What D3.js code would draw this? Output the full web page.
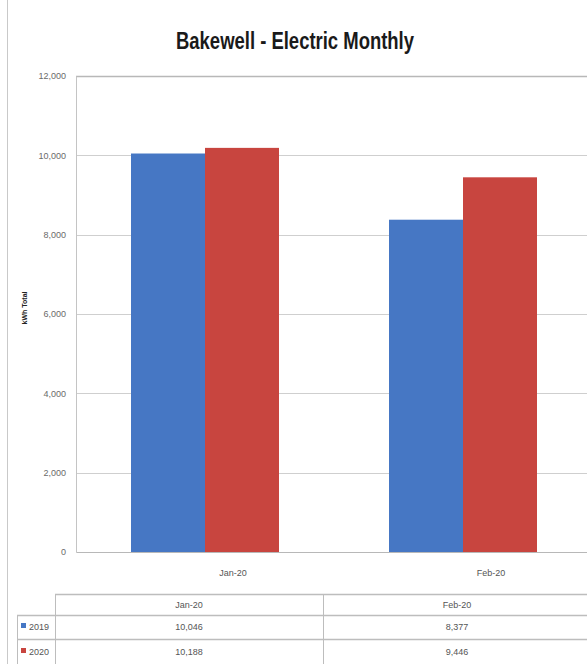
<!DOCTYPE html>
<html>
<head>
<meta charset="utf-8">
<script src="https://cdn.jsdelivr.net/npm/d3@7"></script>
<style>
  html, body { margin: 0; padding: 0; background: #fff; }
  svg { display: block; }
  text { font-family: "Liberation Sans", Arial, sans-serif; }
</style>
</head>
<body>
<svg id="chart" width="587" height="664"></svg>
<script>
// Monthly electricity use, two years side by side
const categories = ["Jan-20", "Feb-20"];
const seriesNames = ["2019", "2020"];
const values2019 = [10046, 8377];
const values2020 = [10188, 9446];
const yTicks = [0, 2000, 4000, 6000, 8000, 10000, 12000];
const seriesColors = ["#4677c4", "#c8453f"];

const series = [values2019, values2020];

const svg = d3.select("#chart");
const W = 587, H = 664;
const plot = { left: 76, right: 592, top: 76, bottom: 552 };

// frame line on the left edge
svg.append("line")
  .attr("x1", 7.5).attr("x2", 7.5).attr("y1", 0).attr("y2", H)
  .attr("stroke", "#c9c9c9").attr("stroke-width", 1);

// title, condensed to the width of the plot heading
svg.append("text")
  .attr("x", 295).attr("y", 49)
  .attr("text-anchor", "middle")
  .attr("font-size", 23).attr("font-weight", "bold")
  .attr("fill", "#1a1a1a")
  .attr("textLength", 238).attr("lengthAdjust", "spacingAndGlyphs")
  .text("Bakewell - Electric Monthly");

const y = d3.scaleLinear().domain([0, 12000]).range([plot.bottom, plot.top]);
const x0 = d3.scaleBand().domain(categories).range([plot.left, plot.right])
  .paddingInner(0.4264).paddingOuter(0.2132);
const x1 = d3.scaleBand().domain(seriesNames).range([0, x0.bandwidth()]);

// gridlines
svg.append("g").selectAll("line").data(yTicks.filter(d => d > 0)).join("line")
  .attr("x1", plot.left).attr("x2", W)
  .attr("y1", d => Math.round(y(d)) + 0.5).attr("y2", d => Math.round(y(d)) + 0.5)
  .attr("stroke", d => d === 12000 ? "#b8b8b8" : "#cfcfcf").attr("stroke-width", d => d === 12000 ? 1.5 : 1);

// y axis (labels only, plus plot frame)
const yAxis = d3.axisLeft(y).tickValues(yTicks).tickSize(0).tickPadding(10)
  .tickFormat(d3.format(","));
const gy = svg.append("g").attr("transform", `translate(${plot.left},0)`).call(yAxis);
gy.select(".domain").attr("stroke", "#c4c4c4");
gy.selectAll("text").attr("font-size", 9).attr("fill", "#6a6a6a");

// bars
svg.append("g").selectAll("g").data(categories).join("g")
  .attr("transform", d => `translate(${x0(d)},0)`)
  .selectAll("rect")
  .data((d, i) => seriesNames.map((s, j) => ({ s, j, v: series[j][i] })))
  .join("rect")
  .attr("x", d => x1(d.s))
  .attr("width", x1.bandwidth())
  .attr("y", d => y(d.v))
  .attr("height", d => y(0) - y(d.v))
  .attr("fill", d => seriesColors[d.j]);

// category axis
const xAxis = d3.axisBottom(x0).tickSize(0).tickPadding(18);
const gx = svg.append("g").attr("transform", `translate(0,${plot.bottom})`).call(xAxis);
gx.select(".domain").attr("stroke", "#b8b8b8").attr("stroke-width", 1.2);
gx.selectAll("text").attr("font-size", 9).attr("fill", "#555").attr("dx", 28);

// y axis title
svg.append("text")
  .attr("transform", "translate(27,308) rotate(-90)")
  .attr("text-anchor", "middle")
  .attr("font-size", 7).attr("font-weight", "bold").attr("fill", "#222")
  .text("kWh Total");

// data table under the chart
const tableTop = 594, headerBottom = 615, rowLine = 639;
const colLeft = 55;
const colX = d3.scaleBand().domain(categories).range([colLeft, 591]);
const tg = svg.append("g");
const lineColor = "#bdbdbd";
tg.append("line").attr("x1", colLeft).attr("x2", W).attr("y1", tableTop + 0.5).attr("y2", tableTop + 0.5).attr("stroke", lineColor).attr("stroke-width", 1.3);
tg.append("line").attr("x1", 17).attr("x2", W).attr("y1", headerBottom + 0.5).attr("y2", headerBottom + 0.5).attr("stroke", lineColor).attr("stroke-width", 1.3);
tg.append("line").attr("x1", 17).attr("x2", W).attr("y1", rowLine + 0.5).attr("y2", rowLine + 0.5).attr("stroke", lineColor).attr("stroke-width", 1.3);
tg.append("line").attr("x1", colLeft + 0.5).attr("x2", colLeft + 0.5).attr("y1", tableTop).attr("y2", H).attr("stroke", lineColor);
tg.append("line").attr("x1", 17.5).attr("x2", 17.5).attr("y1", headerBottom).attr("y2", H).attr("stroke", lineColor);
tg.selectAll(".div").data(categories.slice(1)).join("line")
  .attr("x1", d => Math.round(colX(d)) + 0.5).attr("x2", d => Math.round(colX(d)) + 0.5)
  .attr("y1", tableTop).attr("y2", H).attr("stroke", lineColor);

// header cells
tg.selectAll(".hdr").data(categories).join("text")
  .attr("x", d => colX(d) + colX.bandwidth() / 2).attr("y", 608)
  .attr("text-anchor", "middle").attr("font-size", 9).attr("fill", "#555")
  .text(d => d);

// value rows
const fmt = d3.format(",");
const rowY = [630, 655];
seriesNames.forEach((s, j) => {
  tg.append("rect").attr("x", 21).attr("y", rowY[j] - 7).attr("width", 5).attr("height", 5)
    .attr("fill", seriesColors[j]);
  tg.append("text").attr("x", 29).attr("y", rowY[j]).attr("font-size", 9).attr("fill", "#555").text(s);
  tg.selectAll(null).data(categories).join("text")
    .attr("x", d => colX(d) + colX.bandwidth() / 2).attr("y", rowY[j])
    .attr("text-anchor", "middle").attr("font-size", 9).attr("fill", "#555")
    .text((d, i) => fmt(series[j][i]));
});
</script>
</body>
</html>
